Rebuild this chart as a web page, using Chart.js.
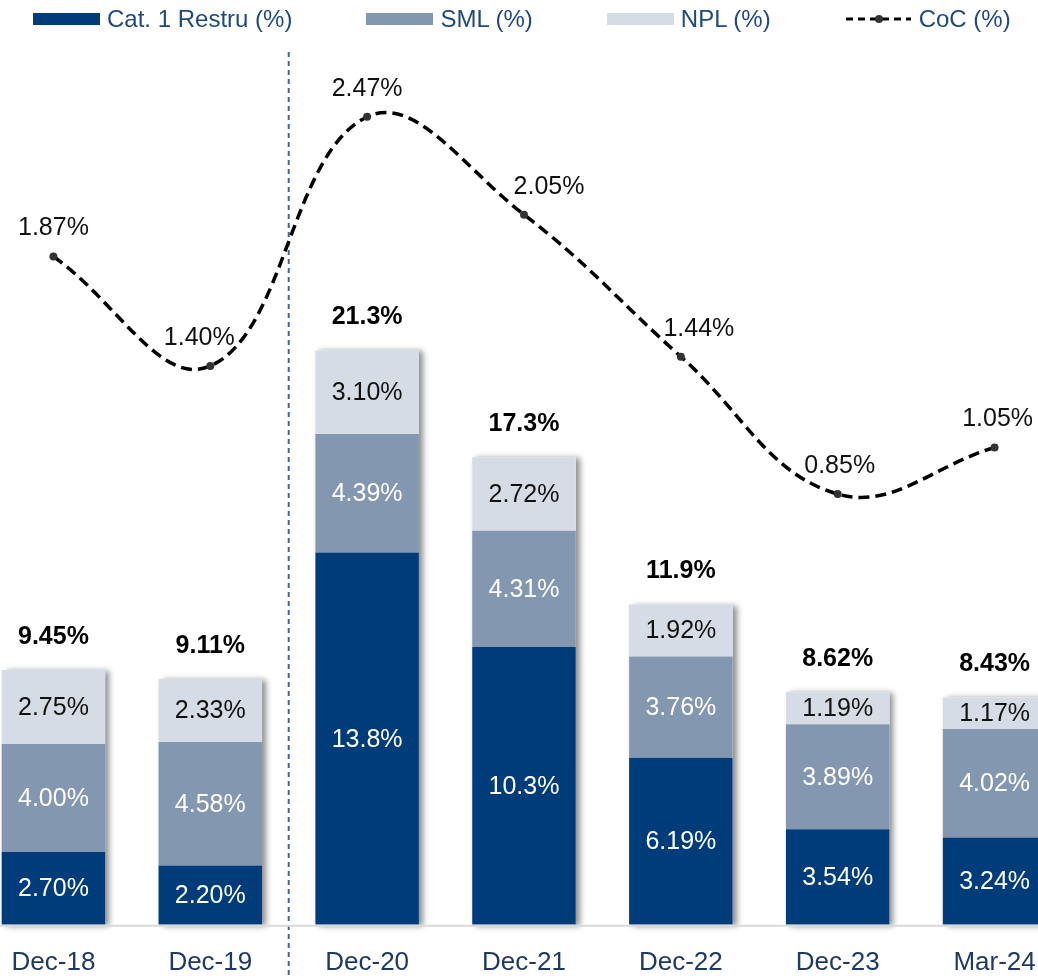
<!DOCTYPE html>
<html>
<head>
<meta charset="utf-8">
<script src="https://cdn.jsdelivr.net/npm/chart.js@4.4.1/dist/chart.umd.min.js"></script>
<style>
  html, body { margin: 0; padding: 0; background: #fff; overflow: hidden; }
  body { width: 1038px; height: 976px; position: relative; font-family: "Liberation Sans", Arial, sans-serif; }
  #legend { position: absolute; left: 33px; top: 0; height: 38px; display: flex; align-items: center; gap: 74px; z-index: 2; }
  .item { display: flex; align-items: center; gap: 7px; font-size: 24px; color: #1F497D; white-space: nowrap; }
  .swatch { width: 67px; height: 12px; display: block; }
  #wrap { position: absolute; left: -29px; top: 0; width: 1106px; height: 1000px; }
</style>
</head>
<body>
<div id="legend"></div>
<div id="wrap"><canvas id="riskChart" width="1106" height="1000"></canvas></div>
<script>
// values
var periods = ['Dec-18', 'Dec-19', 'Dec-20', 'Dec-21', 'Dec-22', 'Dec-23', 'Mar-24'];
var cat1Restru = [2.70, 2.20, 13.8, 10.3, 6.19, 3.54, 3.24];
var sml = [4.00, 4.58, 4.39, 4.31, 3.76, 3.89, 4.02];
var npl = [2.75, 2.33, 3.10, 2.72, 1.92, 1.19, 1.17];
var coc = [1.87, 1.40, 2.47, 2.05, 1.44, 0.85, 1.05];

var totals = periods.map(function (p, i) { return cat1Restru[i] + sml[i] + npl[i]; });

var fontFamily = '"Liberation Sans", Arial, sans-serif';
var segTextColors = ['#ffffff', '#ffffff', '#111111'];
var cocNudgeX = [0, -11, 0, 25, 18, 2, 3];   // label placement only

function fmt3(v) { return Number(v).toPrecision(3) + '%'; }

// divider, column shadows and base line
var barShadow = {
    id: 'barShadow',
    beforeDatasetsDraw: function (chart) {
        var ctx = chart.ctx;
        var y = chart.scales.y;
        var x = chart.scales.x;
        ctx.save();
        // dashed divider between Dec-19 and Dec-20
        var sepX = (x.getPixelForValue(1) + x.getPixelForValue(2)) / 2;
        ctx.strokeStyle = '#4A6487';
        ctx.lineWidth = 2;
        ctx.setLineDash([5, 4]);
        ctx.beginPath();
        ctx.moveTo(sepX, 52);
        ctx.lineTo(sepX, chart.height);
        ctx.stroke();
        ctx.setLineDash([]);

        ctx.shadowColor = 'rgba(0,0,0,0.45)';
        ctx.shadowBlur = 6;
        ctx.shadowOffsetX = 4;
        ctx.shadowOffsetY = 1;
        ctx.fillStyle = '#ffffff';
        chart.getDatasetMeta(0).data.forEach(function (bar, i) {
            var top = y.getPixelForValue(totals[i]);
            ctx.fillRect(bar.x - bar.width / 2, top, bar.width, bar.base - top);
        });
        ctx.restore();
    },
    afterDatasetsDraw: function (chart) {
        var ctx = chart.ctx;
        var area = chart.chartArea;
        ctx.save();
        ctx.strokeStyle = '#D9D9D9';
        ctx.lineWidth = 2;
        ctx.beginPath();
        ctx.moveTo(0, area.bottom + 1);
        ctx.lineTo(chart.width, area.bottom + 1);
        ctx.stroke();
        ctx.restore();
    }
};

var valueLabels = {
    id: 'valueLabels',
    afterDatasetsDraw: function (chart) {
        var ctx = chart.ctx;
        ctx.save();
        ctx.textAlign = 'center';
        ctx.textBaseline = 'middle';
        ctx.font = '25px ' + fontFamily;
        [0, 1, 2].forEach(function (d) {
            var ds = chart.data.datasets[d];
            ctx.fillStyle = segTextColors[d];
            chart.getDatasetMeta(d).data.forEach(function (bar, i) {
                ctx.fillText(fmt3(ds.data[i]), bar.x, (bar.y + bar.base) / 2 + 1);
            });
        });

        ctx.font = 'bold 25px ' + fontFamily;
        ctx.fillStyle = '#000000';
        chart.getDatasetMeta(2).data.forEach(function (bar, i) {
            ctx.fillText(fmt3(totals[i]), bar.x, bar.y - 33);
        });

        ctx.font = '25px ' + fontFamily;
        ctx.fillStyle = '#111111';
        chart.getDatasetMeta(3).data.forEach(function (pt, i) {
            ctx.fillText(coc[i].toFixed(2) + '%', pt.x + cocNudgeX[i], pt.y - 28);
        });
        ctx.restore();
    }
};

var chart = new Chart(document.getElementById('riskChart'), {
    type: 'bar',
    data: {
        labels: periods,
        datasets: [
            { label: 'Cat. 1 Restru (%)', data: cat1Restru, backgroundColor: '#003B7A', order: 1 },
            { label: 'SML (%)', data: sml, backgroundColor: '#8497B0', order: 1 },
            { label: 'NPL (%)', data: npl, backgroundColor: '#D6DCE5', order: 1 },
            {
                type: 'line', label: 'CoC (%)', data: coc, yAxisID: 'y2', order: 0,
                borderColor: '#000000', borderWidth: 3.5, borderDash: [11, 6], tension: 0.4,
                pointRadius: 4, pointBackgroundColor: '#333333', pointBorderWidth: 0,
                fill: false, clip: false
            }
        ]
    },
    options: {
        responsive: false,
        animation: false,
        layout: { padding: { top: 40, left: 0, right: 0, bottom: 0 } },
        datasets: { bar: { categoryPercentage: 1, barPercentage: 0.66 } },
        plugins: {
            legend: { display: false },
            tooltip: { enabled: false }
        },
        scales: {
            x: {
                stacked: true,
                grid: { display: false, drawTicks: false },
                border: { display: false },
                ticks: { padding: 22, color: '#1F3864', font: { family: fontFamily, size: 26 } }
            },
            y: { stacked: true, display: false, min: 0, max: 32.8 },
            y2: { display: false, min: -1, max: 2.8 }
        }
    },
    plugins: [barShadow, valueLabels]
});

// html legend built from the chart's datasets
var legendBox = document.getElementById('legend');
chart.data.datasets.forEach(function (ds) {
    var item = document.createElement('div');
    item.className = 'item';
    var sw;
    if (ds.type === 'line') {
        sw = document.createElement('canvas');
        sw.width = 67; sw.height = 12;
        sw.className = 'swatch';
        var c = sw.getContext('2d');
        c.strokeStyle = ds.borderColor;
        c.lineWidth = 3;
        c.setLineDash([7, 5]);
        c.beginPath(); c.moveTo(1, 6); c.lineTo(66, 6); c.stroke();
        c.fillStyle = ds.pointBackgroundColor;
        c.beginPath(); c.arc(34, 6, 4, 0, Math.PI * 2); c.fill();
    } else {
        sw = document.createElement('span');
        sw.className = 'swatch';
        sw.style.background = ds.backgroundColor;
    }
    var txt = document.createElement('span');
    txt.textContent = ds.label;
    item.appendChild(sw);
    item.appendChild(txt);
    legendBox.appendChild(item);
});
</script>
</body>
</html>
